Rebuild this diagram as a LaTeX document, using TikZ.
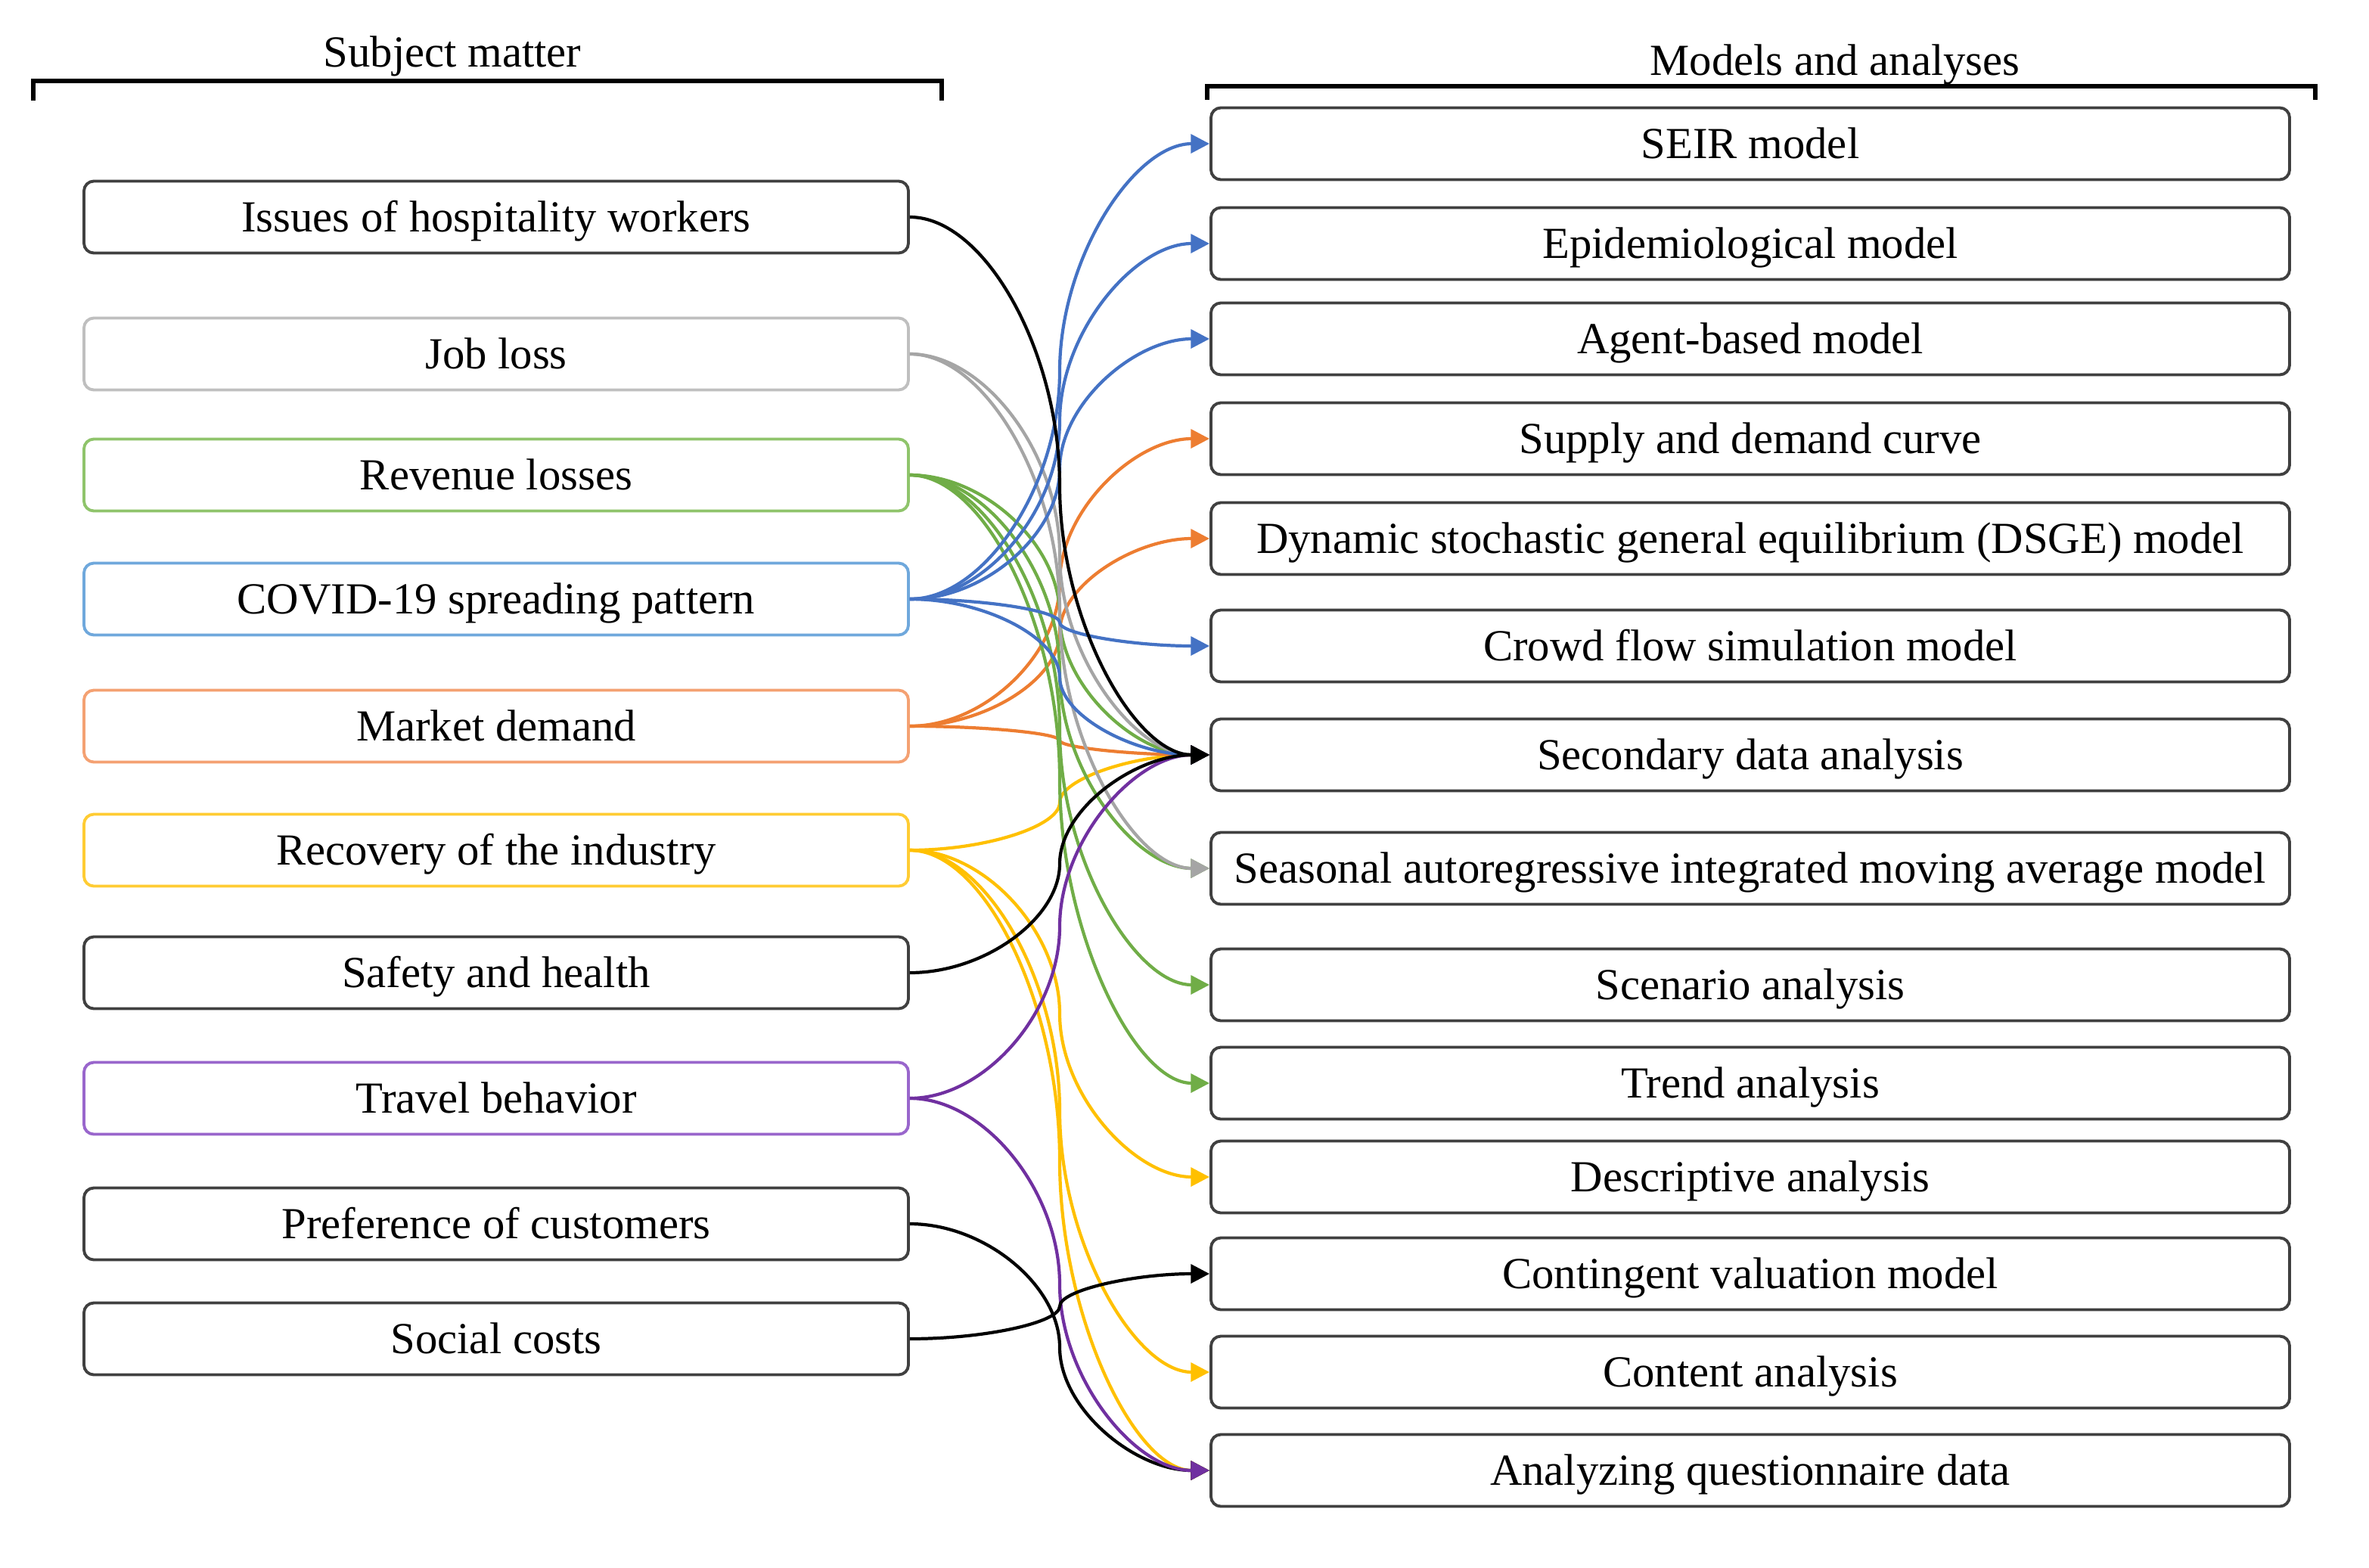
\documentclass[tikz,border=0pt]{standalone}
\usepackage{fontspec}
\setmainfont{Liberation Serif}
\usetikzlibrary{arrows.meta,calc}
\definecolor{lnblue}{HTML}{4472C4}
\definecolor{lngrey}{HTML}{A5A5A5}
\definecolor{lngreen}{HTML}{70AD47}
\definecolor{lnorange}{HTML}{ED7D31}
\definecolor{lnyellow}{HTML}{FFC000}
\definecolor{lnpurple}{HTML}{7030A0}
\definecolor{bxdark}{HTML}{404040}
\definecolor{bxgrey}{HTML}{BFBFBF}
\definecolor{bxgreen}{HTML}{8FC46B}
\definecolor{bxblue}{HTML}{6FA8DC}
\definecolor{bxorange}{HTML}{F4A172}
\definecolor{bxyellow}{HTML}{FFCC33}
\definecolor{bxpurple}{HTML}{9966CC}
\tikzset{
  box/.style={draw=bxdark, line width=1.1pt, rounded corners=0.13cm, fill=white,
    minimum height=0.95cm, inner sep=0pt, align=center,
    text height=15pt, text depth=3.94pt,
    font=\fontsize{16.7}{19}\selectfont},
  lbox/.style={box, minimum width=10.9cm},
  rbox/.style={box, minimum width=14.26cm},
  hdr/.style={inner sep=0pt, font=\fontsize{16.7}{19}\selectfont},
  conn/.style={line width=1.2pt, -{Triangle[length=7pt,width=7pt]},
    to path={let \p1=(\tikztostart), \p2=(\tikztotarget) in
      .. controls ({0.75*\x1+0.25*\x2},\y1) and ({0.5*\x1+0.5*\x2},{0.75*\y1+0.25*\y2})
      .. ({0.5*\x1+0.5*\x2},{0.5*\y1+0.5*\y2})
      .. controls ({0.5*\x1+0.5*\x2},{0.25*\y1+0.75*\y2}) and ({0.25*\x1+0.75*\x2},\y2)
      .. (\tikztotarget)}},
  bracket/.style={line width=1.5pt}
}
\begin{document}
\begin{tikzpicture}
\useasboundingbox (0,0) rectangle (31.32,-20.72);
% headers
\node[hdr] (hL) at (5.98,-0.74) {Subject matter};
\node[hdr] (hR) at (24.26,-0.85) {Models and analyses};
\draw[bracket] (0.44,-1.33) -- (0.44,-1.07) -- (12.45,-1.07) -- (12.45,-1.33);
\draw[bracket] (15.96,-1.32) -- (15.96,-1.14) -- (30.61,-1.14) -- (30.61,-1.32);
% left boxes
\node[lbox] (s1) at (6.56,-2.87) {Issues of hospitality workers};
\node[lbox, draw=bxgrey] (s2) at (6.56,-4.68) {Job loss};
\node[lbox, draw=bxgreen] (s3) at (6.56,-6.28) {Revenue losses};
\node[lbox, draw=bxblue] (s4) at (6.56,-7.92) {COVID-19 spreading pattern};
\node[lbox, draw=bxorange] (s5) at (6.56,-9.60) {Market demand};
\node[lbox, draw=bxyellow] (s6) at (6.56,-11.24) {Recovery of the industry};
\node[lbox] (s7) at (6.56,-12.86) {Safety and health};
\node[lbox, draw=bxpurple] (s8) at (6.56,-14.52) {Travel behavior};
\node[lbox] (s9) at (6.56,-16.18) {Preference of customers};
\node[lbox] (s10) at (6.56,-17.70) {Social costs};
% right boxes
\node[rbox] (m1) at (23.14,-1.90) {SEIR model};
\node[rbox] (m2) at (23.14,-3.22) {Epidemiological model};
\node[rbox] (m3) at (23.14,-4.48) {Agent-based model};
\node[rbox] (m4) at (23.14,-5.80) {Supply and demand curve};
\node[rbox] (m5) at (23.14,-7.12) {Dynamic stochastic general equilibrium (DSGE) model};
\node[rbox] (m6) at (23.14,-8.54) {Crowd flow simulation model};
\node[rbox] (m7) at (23.14,-9.98) {Secondary data analysis};
\node[rbox] (m8) at (23.14,-11.48) {Seasonal autoregressive integrated moving average model};
\node[rbox] (m9) at (23.14,-13.02) {Scenario analysis};
\node[rbox] (m10) at (23.14,-14.32) {Trend analysis};
\node[rbox] (m11) at (23.14,-15.56) {Descriptive analysis};
\node[rbox] (m12) at (23.14,-16.84) {Contingent valuation model};
\node[rbox] (m13) at (23.14,-18.14) {Content analysis};
\node[rbox] (m14) at (23.14,-19.44) {Analyzing questionnaire data};
% connectors
\begin{scope}[every path/.style={conn}]
\draw[lnyellow] (s6.east) to (m7.west);
\draw[lnyellow] (s6.east) to (m11.west);
\draw[lnyellow] (s6.east) to (m13.west);
\draw[lnyellow] (s6.east) to (m14.west);
\draw[lnorange] (s5.east) to (m4.west);
\draw[lnorange] (s5.east) to (m5.west);
\draw[lnorange] (s5.east) to (m7.west);
\draw[lngreen] (s3.east) to (m7.west);
\draw[lngreen] (s3.east) to (m8.west);
\draw[lngreen] (s3.east) to (m9.west);
\draw[lngreen] (s3.east) to (m10.west);
\draw[lngrey] (s2.east) to (m7.west);
\draw[lngrey] (s2.east) to (m8.west);
\draw[lnblue] (s4.east) to (m1.west);
\draw[lnblue] (s4.east) to (m2.west);
\draw[lnblue] (s4.east) to (m3.west);
\draw[lnblue] (s4.east) to (m6.west);
\draw[lnblue] (s4.east) to (m7.west);
\draw[lnpurple] (s8.east) to (m7.west);
\draw[black] (s9.east) to (m14.west);
\draw[lnpurple] (s8.east) to (m14.west);
\draw[black] (s10.east) to (m12.west);
\draw[black] (s7.east) to (m7.west);
\draw[black] (s1.east) to (m7.west);
\end{scope}
\end{tikzpicture}
\end{document}
